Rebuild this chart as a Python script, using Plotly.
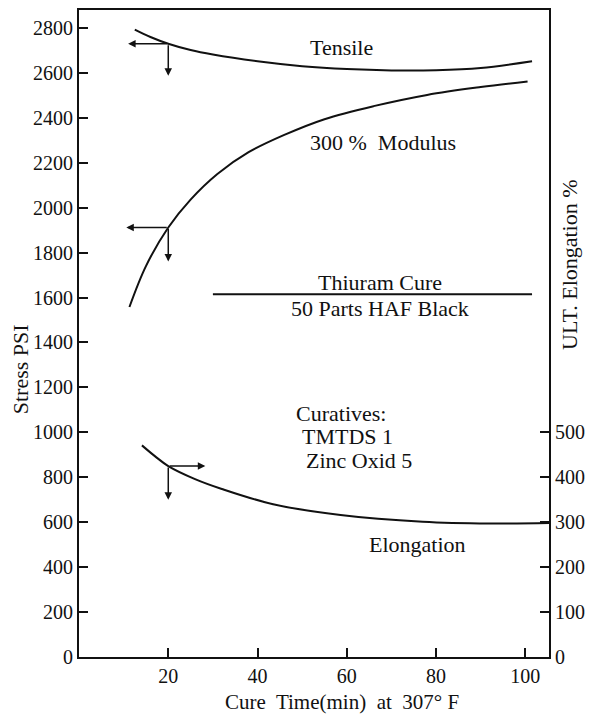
import plotly.graph_objects as go
import numpy as np

# ---------------- data ----------------
tensile_time = [12.5, 16, 20, 25, 30, 40, 50, 60, 70, 80, 90, 101.5]
tensile_psi = [2793, 2760, 2730, 2702, 2682, 2652, 2630, 2617, 2611, 2612, 2622, 2652]

modulus_time = [11.3, 15, 20, 25, 31, 38, 46, 55, 66, 78, 90, 100.5]
modulus_psi = [1558, 1740, 1912, 2036, 2150, 2247, 2324, 2394, 2452, 2502, 2537, 2562]

elong_time = [14.1, 17, 20, 26, 32, 43.5, 58.6, 77, 92, 105.3]
elong_pct = [471, 447, 425, 396, 374, 340, 316, 301, 297, 298]

x_ticks = [20, 40, 60, 80, 100]
y_ticks = list(range(0, 2801, 200))
y2_ticks = [0, 100, 200, 300, 400, 500]

READ_AT = 20  # reading time marked by arrows
divider_x = [30, 101.5]
divider_psi = 1615

FONT = "Liberation Serif, Tinos, Times New Roman, DejaVu Serif, serif"
BLACK = "#111111"

fig = go.Figure()
for xs, ys, yax in [(tensile_time, tensile_psi, "y"),
                    (modulus_time, modulus_psi, "y"),
                    (elong_time, elong_pct, "y2")]:
    fig.add_trace(go.Scatter(x=xs, y=ys, mode="lines", yaxis=yax,
                             line=dict(color=BLACK, width=2, shape="spline", smoothing=1.0),
                             showlegend=False, hoverinfo="skip"))

annotations = []

def arrow(x_tip, y_tip, x_tail, y_tail, yref="y"):
    annotations.append(dict(x=x_tip, y=y_tip, ax=x_tail, ay=y_tail,
                            xref="x", yref=yref, axref="x", ayref=yref,
                            text="", showarrow=True, arrowhead=2, arrowsize=1.0,
                            arrowwidth=1.5, arrowcolor=BLACK))

# indicator arrows at READ_AT
t_val = float(np.interp(READ_AT, tensile_time, tensile_psi))
m_val = float(np.interp(READ_AT, modulus_time, modulus_psi))
e_val = float(np.interp(READ_AT, elong_time, elong_pct))
arrow(11.0, t_val, READ_AT, t_val)
arrow(READ_AT, 2587, READ_AT, t_val)
arrow(10.6, m_val, READ_AT, m_val)
arrow(READ_AT, 1761, READ_AT, m_val)
arrow(28.3, e_val, READ_AT, e_val, yref="y2")
arrow(READ_AT, 350, READ_AT, e_val, yref="y2")

def label(text, x, y, xanchor="center", size=22):
    annotations.append(dict(x=x, y=y, xref="x", yref="y", text=text, showarrow=False,
                            xanchor=xanchor, yanchor="middle",
                            font=dict(family=FONT, size=size, color=BLACK)))

label("Tensile", 58.7, 2712)
label("300 %\u00a0 Modulus", 68.1, 2290)
label("Thiuram Cure", 67.4, 1668)
label("50 Parts HAF Black", 67.4, 1553)
label("Curatives:", 48.1, 1085, xanchor="left")
label("TMTDS 1", 49.5, 982, xanchor="left")
label("Zinc Oxid 5", 50.5, 873, xanchor="left")
label("Elongation", 75.9, 500)

# axis titles
annotations.append(dict(x=0.559, y=0, xref="paper", yref="paper", yshift=-45,
                        text="Cure\u00a0 Time(min)\u00a0 at\u00a0 307°\u00a0F", showarrow=False,
                        xanchor="center", yanchor="middle",
                        font=dict(family=FONT, size=21, color=BLACK)))
annotations.append(dict(x=0, y=0.444, xref="paper", yref="paper", xshift=-58.5,
                        text="Stress PSI",
                        textangle=-90, showarrow=False, xanchor="center", yanchor="middle",
                        font=dict(family=FONT, size=22, color=BLACK)))
annotations.append(dict(x=1, y=0.606, xref="paper", yref="paper", xshift=21,
                        text="ULT. Elongation %", textangle=-90, showarrow=False,
                        xanchor="center", yanchor="middle",
                        font=dict(family=FONT, size=22, color=BLACK)))

shapes = [dict(type="line", xref="x", yref="y", x0=divider_x[0], x1=divider_x[1],
               y0=divider_psi, y1=divider_psi, line=dict(color=BLACK, width=2))]

axis_common = dict(showgrid=False, zeroline=False, showline=True, linecolor=BLACK,
                   linewidth=2, ticks="inside", ticklen=9, tickwidth=1.5, tickcolor=BLACK,
                   tickfont=dict(family=FONT, size=20, color=BLACK))

fig.update_layout(
    width=593, height=716,
    margin=dict(l=79, r=44, t=8, b=59),
    paper_bgcolor="white", plot_bgcolor="white",
    font=dict(family=FONT, color=BLACK),
    xaxis=dict(range=[0, 105.3], tickvals=x_ticks, mirror=True, **axis_common),
    yaxis=dict(range=[0, 2880], tickvals=y_ticks, **axis_common),
    yaxis2=dict(range=[0, 1440], tickvals=y2_ticks, overlaying="y", side="right",
                **axis_common),
    annotations=annotations,
    shapes=shapes,
    showlegend=False,
)

fig.write_html("out.html")
